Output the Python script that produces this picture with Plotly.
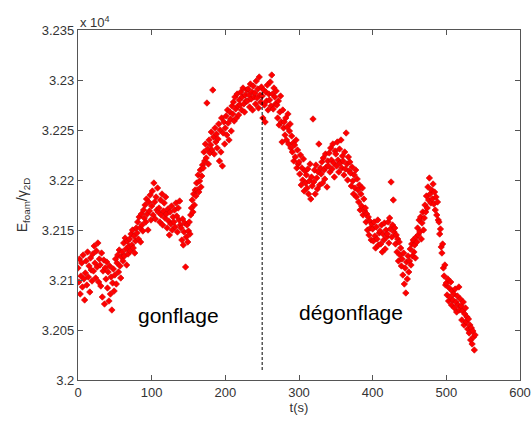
import plotly.graph_objects as go

# time samples (s), one per second
t_start, t_stop = 0, 540
time_s = list(range(t_start, t_stop))

# E_foam / gamma_2D values
e_foam = [
    32112, 32098, 32121, 32086, 32104, 32117, 32093, 32125, 32101, 32080,
    32107, 32119, 32095, 32128, 32103, 32114, 32088, 32122, 32110, 32099,
    32126, 32109, 32134, 32117, 32102, 32129, 32113, 32137, 32098, 32121,
    32115, 32094, 32127, 32083, 32109, 32120, 32076, 32112, 32101, 32118,
    32092, 32108, 32079, 32114, 32086, 32103, 32070, 32097, 32111, 32089,
    32105, 32121, 32096, 32117, 32125, 32108, 32130, 32114, 32102, 32123,
    32128, 32119, 32137, 32124, 32142, 32131, 32115, 32139, 32126, 32134,
    32141, 32129, 32146, 32135, 32150, 32132, 32144, 32127, 32139, 32152,
    32147, 32158, 32141, 32163, 32152, 32138, 32166, 32155, 32149, 32170,
    32162, 32175, 32158, 32181, 32166, 32150, 32178, 32169, 32185, 32160,
    32174, 32189, 32165, 32197, 32178, 32161, 32183, 32170, 32192, 32168,
    32172, 32158, 32180, 32165, 32186, 32155, 32169, 32177, 32162, 32183,
    32166, 32152, 32171, 32159, 32145, 32168, 32156, 32174, 32150, 32163,
    32158, 32170, 32153, 32177, 32164, 32148, 32172, 32160, 32179, 32155,
    32152, 32140, 32161, 32135, 32148, 32157, 32113, 32143, 32155, 32138,
    32149, 32158, 32146, 32165, 32172, 32180, 32168, 32186, 32175, 32190,
    32184, 32197, 32190, 32205, 32188, 32199, 32210, 32193, 32204, 32215,
    32212, 32228, 32219, 32236, 32222, 32277, 32231, 32216, 32240, 32227,
    32235, 32248, 32230, 32290, 32243, 32226, 32252, 32238, 32246, 32232,
    32241, 32256, 32219, 32250, 32228, 32262, 32214, 32247, 32258, 32236,
    32252, 32264, 32245, 32270, 32257, 32240, 32268, 32261, 32249, 32274,
    32266, 32278, 32259, 32283, 32271, 32262, 32286, 32274, 32265, 32280,
    32275, 32288, 32270, 32283, 32292, 32276, 32268, 32285, 32279, 32290,
    32279, 32291, 32285, 32273, 32296, 32281, 32288, 32270, 32294, 32283,
    32287, 32276, 32299, 32282, 32291, 32272, 32303, 32285, 32278, 32293,
    32284, 32262, 32290, 32275, 32258, 32288, 32279, 32295, 32270, 32286,
    32280, 32298, 32274, 32305, 32286, 32271, 32292, 32283, 32276, 32289,
    32275, 32262, 32279, 32255, 32268, 32284, 32258, 32238, 32270, 32252,
    32258, 32245, 32262, 32240, 32253, 32266, 32236, 32249, 32256, 32232,
    32244, 32228, 32237, 32219, 32235, 32223, 32240, 32212, 32230, 32216,
    32218, 32206, 32225, 32195, 32212, 32200, 32221, 32189, 32209, 32197,
    32205, 32192, 32211, 32186, 32199, 32216, 32181, 32203, 32194, 32261,
    32198, 32210, 32186, 32215, 32202, 32191, 32208, 32236, 32195, 32212,
    32206, 32218, 32197, 32222, 32210, 32201, 32226, 32213, 32193, 32219,
    32214, 32227, 32208, 32232, 32220, 32211, 32236, 32217, 32203, 32229,
    32226, 32214, 32238, 32220, 32208, 32231, 32217, 32240, 32212, 32224,
    32219, 32205, 32228, 32211, 32247, 32216, 32200, 32223, 32209, 32218,
    32207, 32194, 32213, 32199, 32186, 32205, 32192, 32210, 32183, 32201,
    32190, 32178, 32195, 32170, 32186, 32174, 32192, 32165, 32181, 32169,
    32172, 32158, 32166, 32150, 32163, 32145, 32159, 32152, 32140, 32156,
    32151, 32139, 32158, 32144, 32132, 32153, 32141, 32160, 32135, 32147,
    32149, 32136, 32155, 32128, 32146, 32140, 32157, 32131, 32150, 32143,
    32146, 32158, 32137, 32162, 32151, 32198, 32143, 32155, 32180, 32148,
    32152, 32136, 32145, 32128, 32141, 32119, 32138, 32125, 32132, 32114,
    32121, 32105, 32127, 32096, 32112, 32087, 32118, 32101, 32124, 32108,
    32119, 32131, 32115, 32136, 32124, 32140, 32128, 32135, 32122, 32143,
    32138, 32152, 32145, 32160, 32148, 32163, 32141, 32157, 32168, 32150,
    32162, 32175, 32168, 32184, 32172, 32193, 32180, 32202, 32186, 32177,
    32190, 32181, 32196, 32176, 32188, 32170, 32183, 32165, 32178, 32160,
    32158, 32146, 32151, 32133, 32127, 32136, 32112, 32104, 32115, 32095,
    32097, 32085, 32101, 32079, 32092, 32083, 32098, 32075, 32089, 32080,
    32086, 32072, 32091, 32078, 32068, 32084, 32075, 32093, 32070, 32081,
    32074, 32060, 32069, 32078, 32055, 32066, 32072, 32058, 32063, 32051,
    32061, 32047, 32055, 32040, 32052, 32036, 32049, 32043, 32030, 32045,
]

x_ticks = [0, 100, 200, 300, 400, 500, 600]
y_ticks = [32000, 32050, 32100, 32150, 32200, 32250, 32300, 32350]
y_tick_labels = ["3.2", "3.205", "3.21", "3.215", "3.22", "3.225", "3.23", "3.235"]

t_switch = 250
switch_line_y = [32010, 32290]
phase_labels = ["gonflage", "dégonflage"]
phase_label_t = [136, 370]
phase_label_e = [32065, 32068]

FONT = "Liberation Sans, Arial, sans-serif"

fig = go.Figure()
fig.add_trace(go.Scatter(
    x=time_s, y=e_foam, mode="markers",
    marker=dict(symbol="diamond", size=5, color="#ff0000",
                line=dict(width=0.6, color="#d00000")),
    showlegend=False, hoverinfo="x+y",
))
fig.add_trace(go.Scatter(
    x=[t_switch, t_switch], y=switch_line_y, mode="lines",
    line=dict(color="black", width=1, dash="3px,2px"),
    showlegend=False, hoverinfo="skip",
))

for txt, tx, ey in zip(phase_labels, phase_label_t, phase_label_e):
    fig.add_annotation(x=tx, y=ey, text=txt, showarrow=False,
                       font=dict(family=FONT, size=21, color="black"))

fig.add_annotation(xref="paper", yref="paper", x=0.0, y=1.0, xanchor="left",
                   yanchor="bottom", text="x 10<sup>4</sup>", showarrow=False,
                   font=dict(family=FONT, size=13, color="#333333"), yshift=-2)

axis_common = dict(showgrid=False, zeroline=False, showline=True, mirror="allticks",
                   linecolor="#555555", linewidth=1.2, ticks="inside", ticklen=5,
                   tickcolor="#555555", automargin=False,
                   tickfont=dict(family=FONT, size=13, color="#333333"))

fig.update_xaxes(range=[0, 600], tickvals=x_ticks, **axis_common,
                 title=dict(text="t(s)", font=dict(family=FONT, size=13, color="#333333"),
                            standoff=2))
fig.update_yaxes(range=[32000, 32350], tickvals=y_ticks, ticktext=y_tick_labels,
                 **axis_common,
                 title=dict(text="E<sub>foam</sub>/γ<sub>2D</sub>",
                            font=dict(family=FONT, size=14, color="#333333"),
                            standoff=10))

fig.update_layout(
    width=532, height=421,
    margin=dict(l=78, r=12, t=30, b=41),
    paper_bgcolor="white", plot_bgcolor="white",
    font=dict(family=FONT),
)

fig.write_html(
    "out.html",
    config={"displayModeBar": False},
    post_script="document.body.style.margin='0';document.body.style.overflow='hidden';",
)
